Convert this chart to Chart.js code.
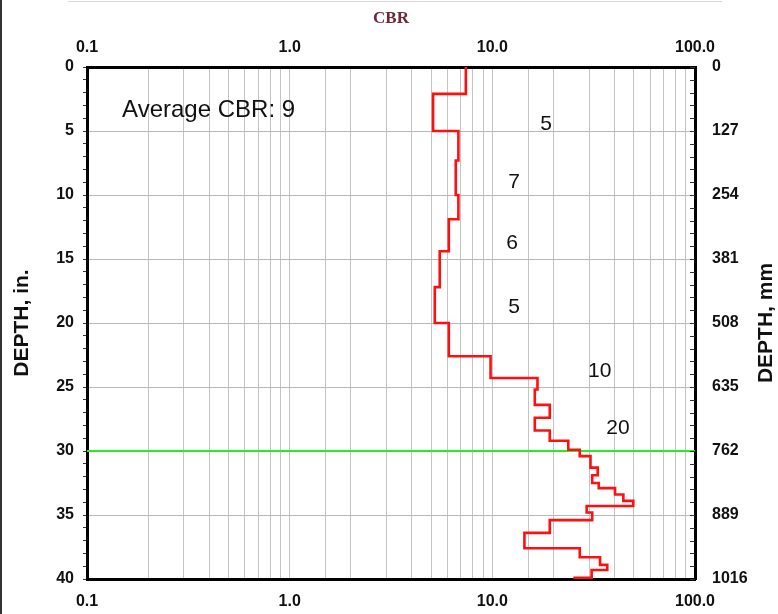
<!DOCTYPE html>
<html>
<head>
<meta charset="utf-8">
<script src="https://cdn.jsdelivr.net/npm/chart.js@4/dist/chart.umd.min.js"></script>
<style>
  html, body { margin: 0; padding: 0; background: #fff; }
  #wrap { position: relative; width: 778px; height: 614px; }
  #c { position: absolute; left: 0; top: 0; }
  .frameL { position: absolute; left: 0; top: 0; width: 2px; height: 614px; background: #333; }
  .frameT { position: absolute; left: 68px; top: 1px; width: 654px; height: 1px; background: #d8d8d8; }
</style>
</head>
<body>
<div id="wrap">
  <canvas id="c" width="778" height="614"></canvas>
  <div class="frameL"></div>
  <div class="frameT"></div>
</div>
<script>
// ---- data ----
const cbrAxisLabels = ['0.1', '1.0', '10.0', '100.0'];
const depthMin = 0, depthMax = 40;
const mmPerInch = 25.4;

// layer tops (in) and CBR of each layer
const layerTop = [0, 2.1, 5.0, 7.3, 10.0, 11.9, 14.4, 17.2, 20.0, 22.6, 24.3, 25.2, 26.4, 27.4, 28.4, 29.2,
                  29.9, 30.4, 31.3, 31.9, 32.5, 32.9, 33.4, 33.9, 34.3, 34.8, 35.4, 36.4, 37.6, 38.3, 38.9, 39.3];
const layerCbr = [7.4, 5.1, 6.8, 6.6, 6.8, 6.1, 5.5, 5.2, 6.1, 9.8, 16.7, 16.2, 19.2, 16.2, 19.2, 23.7,
                  27.0, 30.5, 33.1, 31.1, 33.5, 40.3, 44.3, 49.6, 29.2, 31.1, 19.2, 14.4, 27.0, 34.0, 36.9, 30.9];
const lastDepth = 39.9;
const endCbr = 25.1;

// green reference depth
const refDepth = 30;

// annotations
const noteText  = ['5', '7', '6', '5', '10', '20'];
const noteCbr   = [18.4, 12.8, 12.5, 12.8, 33.9, 41.7];
const noteDepth = [4.5, 9.0, 13.8, 18.75, 23.8, 28.2];
const avgText = 'Average CBR: 9';
const avgCbr = 0.149, avgDepth = 3.36;
const rightTitle = 'DEPTH, mm';

// ---- build step profile ----
const profile = [];
for (let i = 0; i < layerTop.length; i++) {
  const bottom = i + 1 < layerTop.length ? layerTop[i + 1] : lastDepth;
  profile.push({ x: layerCbr[i], y: layerTop[i] });
  profile.push({ x: layerCbr[i], y: bottom });
}
profile.push({ x: endCbr, y: lastDepth });

const FONT = "'Liberation Sans', Arial, sans-serif";
const TICK_FONT = { family: FONT, size: 16, weight: 'bold' };

function isDecade(v) {
  const l = Math.log10(v);
  return Math.abs(l - Math.round(l)) < 1e-6;
}
function decadeLabel(v) {
  const idx = Math.round(Math.log10(v)) + 1;
  return cbrAxisLabels[idx] !== undefined ? cbrAxisLabels[idx] : '';
}

const notesPlugin = {
  id: 'notes',
  afterDatasetsDraw(chart) {
    const { ctx, scales } = chart;
    ctx.save();
    ctx.fillStyle = '#111';
    ctx.textBaseline = 'middle';
    ctx.textAlign = 'center';
    ctx.font = '21px ' + FONT;
    for (let i = 0; i < noteText.length; i++) {
      ctx.fillText(noteText[i], scales.x.getPixelForValue(noteCbr[i]), scales.y.getPixelForValue(noteDepth[i]));
    }
    ctx.textAlign = 'left';
    ctx.font = '24px ' + FONT;
    ctx.fillText(avgText, scales.x.getPixelForValue(avgCbr), scales.y.getPixelForValue(avgDepth));
    ctx.restore();
  },
  afterDraw(chart) {
    const { ctx, scales } = chart;
    const y2 = scales.y2;
    ctx.save();
    // inner minor ticks on right axis
    ctx.strokeStyle = '#333';
    ctx.lineWidth = 1;
    for (let d = depthMin; d <= depthMax; d++) {
      const py = Math.round(y2.getPixelForValue(d)) + 0.5;
      ctx.beginPath();
      ctx.moveTo(y2.left - 5, py);
      ctx.lineTo(y2.left, py);
      ctx.stroke();
    }
    // right title, reading bottom-to-top
    ctx.fillStyle = '#111';
    ctx.font = 'bold 21px ' + FONT;
    ctx.textAlign = 'center';
    ctx.textBaseline = 'middle';
    ctx.translate(y2.right - 12, (y2.top + y2.bottom) / 2);
    ctx.rotate(-Math.PI / 2);
    ctx.fillText(rightTitle, 0, 0);
    ctx.restore();
  }
};

const logX = (pos, extra) => Object.assign({
  type: 'logarithmic',
  position: pos,
  min: 0.1,
  max: 100,
  border: { display: true, color: '#000', width: 3 },
  grid: {
    color: '#c4c4c4',
    lineWidth: 1,
    drawTicks: false
  },
  ticks: {
    autoSkip: false,
    maxRotation: 0,
    color: '#111',
    font: TICK_FONT,
    padding: 10,
    callback: (v) => isDecade(v) ? decadeLabel(v) : ''
  }
}, extra);

const chart = new Chart(document.getElementById('c'), {
  type: 'scatter',
  data: {
    datasets: [
      {
        label: 'CBR',
        data: profile,
        showLine: true,
        borderColor: '#ff1010',
        borderWidth: 2.6,
        pointRadius: 0,
        fill: false,
        xAxisID: 'x',
        yAxisID: 'y'
      },
      {
        label: 'ref',
        data: [{ x: 0.1, y: refDepth }, { x: 100, y: refDepth }],
        showLine: true,
        borderColor: '#22ee22',
        borderWidth: 2,
        pointRadius: 0,
        xAxisID: 'x',
        yAxisID: 'y'
      }
    ]
  },
  options: {
    responsive: false,
    devicePixelRatio: 1,
    animation: false,
    layout: { padding: 0 },
    plugins: { legend: { display: false }, tooltip: { enabled: false } },
    scales: {
      x: logX('bottom', {
        afterFit: (s) => { s.height = 35; },
        ticks: {
          autoSkip: false,
          maxRotation: 0,
          color: '#111',
          font: TICK_FONT,
          padding: 13,
          callback: (v) => isDecade(v) ? decadeLabel(v) : ''
        }
      }),
      x2: logX('top', {
        afterFit: (s) => { s.height = 67; },
        grid: { display: false, drawTicks: false },
        title: {
          display: true,
          text: 'CBR',
          color: '#6a2a3a',
          font: { family: "'Liberation Serif', 'Times New Roman', serif", size: 17, weight: 'bold' },
          padding: { top: 8, bottom: 0 }
        }
      }),
      y: {
        type: 'linear',
        position: 'left',
        reverse: true,
        min: depthMin,
        max: depthMax,
        afterFit: (s) => { s.width = 87; },
        border: { display: true, color: '#000', width: 3 },
        grid: {
          color: (c) => (c.tick && c.tick.value % 5 === 0) ? '#b8b8b8' : 'rgba(0,0,0,0)',
          tickColor: '#333',
          tickLength: 4,
          drawTicks: true,
          lineWidth: 1
        },
        ticks: {
          stepSize: 1,
          autoSkip: false,
          color: '#111',
          font: TICK_FONT,
          padding: 9,
          callback: (v) => (v % 5 === 0) ? String(v) : ''
        },
        title: {
          display: true,
          text: 'DEPTH, in.',
          color: '#111',
          font: { family: FONT, size: 21, weight: 'bold' },
          padding: { top: 10, bottom: 0 }
        }
      },
      y2: {
        type: 'linear',
        position: 'right',
        reverse: true,
        min: depthMin,
        max: depthMax,
        afterFit: (s) => { s.width = 83; },
        border: { display: true, color: '#000', width: 3 },
        grid: { drawOnChartArea: false, drawTicks: false },
        ticks: {
          stepSize: 5,
          autoSkip: false,
          color: '#111',
          font: TICK_FONT,
          padding: 17,
          callback: (v) => String(Math.round(v * mmPerInch))
        }
      }
    }
  },
  plugins: [notesPlugin]
});
</script>
</body>
</html>
